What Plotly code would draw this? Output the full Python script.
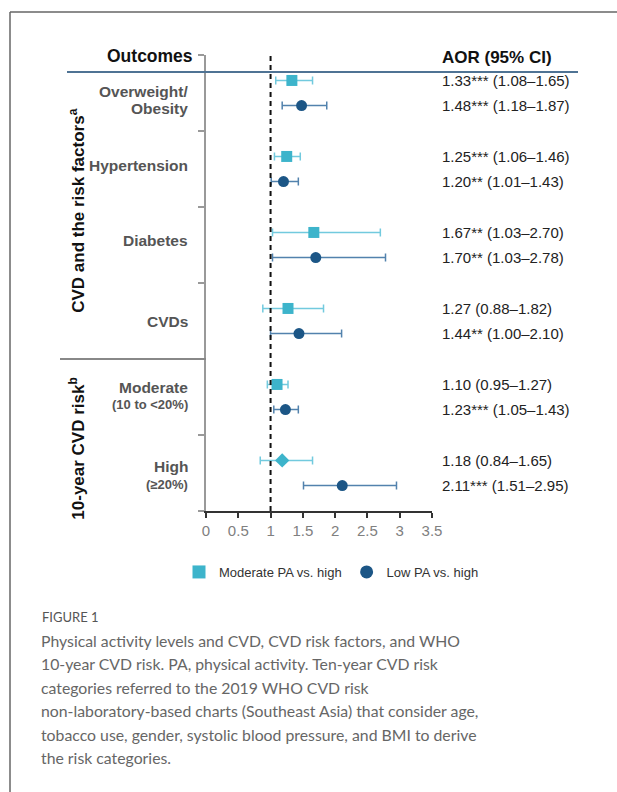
import plotly.graph_objects as go

W, H = 617, 792

# ---------------- data ----------------
categories = ["Overweight/<br>Obesity", "Hypertension", "Diabetes", "CVDs",
              "Moderate", "High"]
sub_labels = ["", "", "", "", "(10 to &lt;20%)", "(≥20%)"]

mod_aor = [1.33, 1.25, 1.67, 1.27, 1.10, 1.18]
mod_lo = [1.08, 1.06, 1.03, 0.88, 0.95, 0.84]
mod_hi = [1.65, 1.46, 2.70, 1.82, 1.27, 1.65]
mod_sig = ["***", "***", "**", "", "", ""]

low_aor = [1.48, 1.20, 1.70, 1.44, 1.23, 2.11]
low_lo = [1.18, 1.01, 1.03, 1.00, 1.05, 1.51]
low_hi = [1.87, 1.43, 2.78, 2.10, 1.43, 2.95]
low_sig = ["***", "**", "**", "**", "***", "***"]

mod_symbols = ["square", "square", "square", "square", "square", "diamond"]

x_ticks = [0, 0.5, 1, 1.5, 2, 2.5, 3, 3.5]
group_labels = ["CVD and the risk factors<sup>a</sup>", "10-year CVD risk<sup>b</sup>"]
legend_names = ["Moderate PA vs. high", "Low PA vs. high"]

caption_head = "FIGURE 1"
caption_lines = [
    "Physical activity levels and CVD, CVD risk factors, and WHO",
    "10-year CVD risk. PA, physical activity. Ten-year CVD risk",
    "categories referred to the 2019 WHO CVD risk",
    "non-laboratory-based charts (Southeast Asia) that consider age,",
    "tobacco use, gender, systolic blood pressure, and BMI to derive",
    "the risk categories.",
]

# ---------------- layout helpers ----------------
n = len(categories)
centers = [n - 0.5 - i for i in range(n)]
off = 0.165
mod_y = [c + off for c in centers]
low_y = [c - off for c in centers]

# vertical pixel offsets of each label line from its band centre (layout only)
label_line_dy = [(-1.5, 15.5), (-3,), (-4,), (0,), (-9.5, 7.5), (-7, 11)]
BAND_PX = 76.0


def px(x):
    return x / W


def py(y):
    return 1 - y / H


PLOT_L, PLOT_R, PLOT_T, PLOT_B = 206, 432, 55, 511

MOD_C = "#3db4cb"
MOD_E = "#72cade"
LOW_C = "#1c5686"
LOW_E = "#5282ad"
FONT = "Liberation Sans, Arial, sans-serif"

fig = go.Figure()

fig.add_trace(go.Scatter(
    x=mod_aor, y=mod_y, mode="markers", showlegend=False,
    marker=dict(symbol=mod_symbols, size=11, color=MOD_C,
                line=dict(color=MOD_C, width=0)),
    error_x=dict(type="data", symmetric=False,
                 array=[h - a for h, a in zip(mod_hi, mod_aor)],
                 arrayminus=[a - l for a, l in zip(mod_aor, mod_lo)],
                 color=MOD_E, thickness=1.5, width=4),
))
fig.add_trace(go.Scatter(
    x=low_aor, y=low_y, mode="markers", showlegend=False,
    marker=dict(symbol="circle", size=11, color=LOW_C),
    error_x=dict(type="data", symmetric=False,
                 array=[h - a for h, a in zip(low_hi, low_aor)],
                 arrayminus=[a - l for a, l in zip(low_aor, low_lo)],
                 color=LOW_E, thickness=1.5, width=4),
))
# legend entries
fig.add_trace(go.Scatter(x=[None], y=[None], mode="markers", name=legend_names[0],
                         marker=dict(symbol="square", size=13, color=MOD_C)))
fig.add_trace(go.Scatter(x=[None], y=[None], mode="markers", name=legend_names[1],
                         marker=dict(symbol="circle", size=13, color=LOW_C)))

annotations = []
# AOR column
for i in range(n):
    annotations.append(dict(
        xref="paper", yref="y", x=px(440), y=mod_y[i], xanchor="left", yanchor="middle",
        text=f"{mod_aor[i]:.2f}{mod_sig[i]} ({mod_lo[i]:.2f}–{mod_hi[i]:.2f})",
        showarrow=False, font=dict(family=FONT, size=15, color="#222")))
    annotations.append(dict(
        xref="paper", yref="y", x=px(440), y=low_y[i], xanchor="left", yanchor="middle",
        text=f"{low_aor[i]:.2f}{low_sig[i]} ({low_lo[i]:.2f}–{low_hi[i]:.2f})",
        showarrow=False, font=dict(family=FONT, size=15, color="#222")))

# category labels (one annotation per text line)
for i in range(n):
    lines = categories[i].split("<br>")
    sizes = [15.5] * len(lines)
    if sub_labels[i]:
        lines.append(sub_labels[i])
        sizes.append(13)
    for line, size, dy in zip(lines, sizes, label_line_dy[i]):
        annotations.append(dict(
            xref="paper", yref="y", x=px(190), y=centers[i] - dy / BAND_PX,
            xanchor="right", yanchor="middle", text=f"<b>{line}</b>", showarrow=False,
            font=dict(family=FONT, size=size, color="#555")))

# headers
annotations.append(dict(xref="paper", yref="paper", x=px(195), y=py(56), xanchor="right",
                        yanchor="middle", text="<b>Outcomes</b>", showarrow=False,
                        font=dict(family=FONT, size=17.5, color="#111")))
annotations.append(dict(xref="paper", yref="paper", x=px(440), y=py(57), xanchor="left",
                        yanchor="middle", text="<b>AOR (95% CI)</b>", showarrow=False,
                        font=dict(family=FONT, size=17, color="#111")))

# group labels (rotated)
annotations.append(dict(xref="paper", yref="y", x=px(77), y=3.95, xanchor="center",
                        yanchor="middle", text=f"<b>{group_labels[0]}</b>", textangle=-90,
                        showarrow=False, font=dict(family=FONT, size=17, color="#111")))
annotations.append(dict(xref="paper", yref="y", x=px(77), y=0.82, xanchor="center",
                        yanchor="middle", text=f"<b>{group_labels[1]}</b>", textangle=-90,
                        showarrow=False, font=dict(family=FONT, size=17, color="#111")))

# caption
annotations.append(dict(xref="paper", yref="paper", x=px(40), y=py(617), xanchor="left",
                        yanchor="middle", text=caption_head, showarrow=False,
                        font=dict(family="Lato, sans-serif", size=13, color="#555")))
for k, line in enumerate(caption_lines):
    annotations.append(dict(xref="paper", yref="paper", x=px(39), y=py(640 + 23.5 * k),
                            xanchor="left", yanchor="middle", text=line, showarrow=False,
                            font=dict(family="Lato, sans-serif", size=15.8, color="#666")))

shapes = [
    # outer frame (top + left)
    dict(type="line", xref="paper", yref="paper", x0=px(10), x1=1.0, y0=py(12), y1=py(12),
         line=dict(color="#666", width=1.5)),
    dict(type="line", xref="paper", yref="paper", x0=px(10), x1=px(10), y0=py(12), y1=0,
         line=dict(color="#666", width=1.5)),
    # header rule
    dict(type="line", xref="paper", yref="paper", x0=px(67), x1=px(578), y0=py(72), y1=py(72),
         line=dict(color="#4f7394", width=2)),
    # group separator
    dict(type="line", xref="paper", yref="y", x0=px(60), x1=px(PLOT_L), y0=2, y1=2,
         line=dict(color="#888", width=2)),
    # reference line at 1
    dict(type="line", xref="x", yref="paper", x0=1, x1=1, y0=py(PLOT_B), y1=py(53),
         line=dict(color="#111", width=2, dash="5px,4px")),
]

fig.update_layout(
    width=W, height=H,
    margin=dict(l=0, r=0, t=0, b=0, pad=0, autoexpand=False),
    paper_bgcolor="white", plot_bgcolor="white",
    xaxis=dict(domain=[px(PLOT_L), px(PLOT_R)], range=[0, 3.5], tickvals=x_ticks,
               ticktext=[f"{v:g}" for v in x_ticks], showgrid=False, zeroline=False,
               showline=True, linecolor="#333", linewidth=2, ticks="outside",
               ticklen=5, tickwidth=2, tickcolor="#333", automargin=False,
               tickfont=dict(family=FONT, size=15, color="#808080")),
    yaxis=dict(domain=[py(PLOT_B), py(PLOT_T)], range=[0, 6], tickvals=list(range(7)),
               showticklabels=False, showgrid=False, zeroline=False, showline=True,
               linecolor="#999", linewidth=2, ticks="outside", ticklen=6, tickwidth=1.5,
               tickcolor="#999", automargin=False),
    legend=dict(orientation="h", x=px(179), y=py(557), xanchor="left", yanchor="top",
                font=dict(family=FONT, size=13, color="#333"), bgcolor="rgba(0,0,0,0)",
                itemwidth=30),
    annotations=annotations,
    shapes=shapes,
)

fig.write_html("out.html", config={"displayModeBar": False},
               post_script="document.body.style.margin='0px';")
